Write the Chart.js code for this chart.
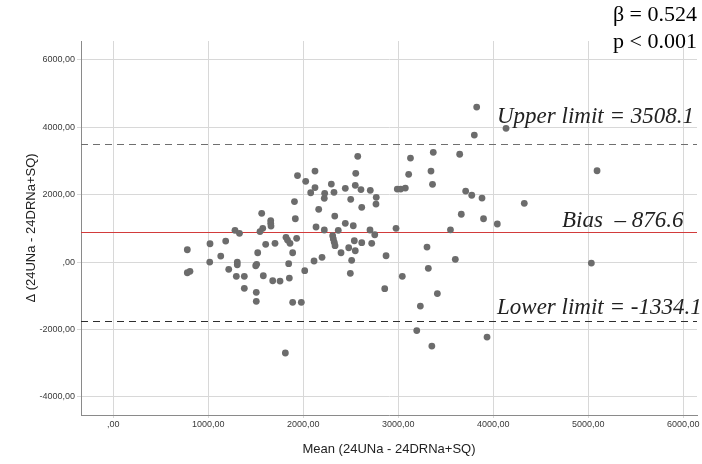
<!DOCTYPE html>
<html>
<head>
<meta charset="utf-8">
<script src="https://cdn.jsdelivr.net/npm/chart.js@4.4.0/dist/chart.umd.min.js"></script>
<style>
  html, body { margin: 0; padding: 0; background: #fff; }
  #wrap { width: 702px; height: 464px; }
</style>
</head>
<body>
<div id="wrap"><canvas id="chart" width="702" height="464"></canvas></div>
<script>
// Mean of the two methods (x) and their difference (y)
const meanValues = [
  779, 779, 807, 1018, 1015, 1131, 1183, 1215, 1281, 1328,
  1305, 1305, 1295, 1379, 1379, 1562, 1573, 1544, 1657, 1657,
  1660, 1604, 1702, 1520, 1499, 1509, 1579, 1505, 1505, 1678,
  1755, 1811, 1907, 1916, 1818, 1834, 1860, 1930, 1888, 1846,
  1853, 1888, 1979, 2015, 2162, 2134, 2221, 2113, 2197, 2331,
  2309, 2316, 2326, 2334, 2368, 2442, 2526, 2478, 2397, 2537,
  2547, 2509, 2495, 2615, 2702, 2752, 2615, 2720, 2765, 2871,
  2857, 2221, 2499, 1939, 2025, 2078, 2573, 2123, 2123, 2225,
  2295, 2323, 2442, 2552, 2547, 2607, 2705, 2768, 2976, 2989,
  3025, 3074, 3109, 3128, 3825, 4134, 3800, 3368, 3646, 3344,
  3360, 3709, 3773, 3881, 3663, 3897, 4042, 3549, 5092, 4326,
  5032, 3042, 3302, 3316, 3600, 3411, 3232, 3194, 3353, 3934
];
const diffValues = [
  365, -318, -276, 543, 0, 178, 623, -217, 941, 852,
  0, -80, -424, -424, -780, 1445, 1000, 905, 1231, 1148,
  1068, 525, 555, 276, -110, -68, -407, -899, -1166, -555,
  -564, -2700, 1795, 1285, 733, 653, 555, 703, 276, -50,
  -475, -1196, -1196, -258, 1564, 1039, 950, 30, 139, 1365,
  780, 683, 585, 484, 941, 1148, 1077, 424, 276, 632,
  335, 50, -335, 1623, 950, 810, 573, 555, 1721, 187,
  -792, 1890, 1861, 2567, 2395, 2056, 3137, 2700, 2211, 2039,
  2315, 2068, 2187, 2632, 2276, 2151, 2128, 1920, 1000, 2166,
  2166, 2196, 2602, 3086, 4600, 3967, 3769, 3255, 3199, 2700,
  2306, 2107, 1982, 1899, 1418, 1285, 1128, 955, 2709, 1742,
  -30, -424, 445, -187, 80, -935, -1306, -2033, -2493, -2226
];

const xTicks = [0, 1000, 2000, 3000, 4000, 5000, 6000];
const yTicks = [-4000, -2000, 0, 2000, 4000, 6000];

const biasValue = 876.6;
const upperLimit = 3508.1;
const lowerLimit = -1754.9;
const limitLabels = ['Upper limit = 3508.1', 'Bias  \u2013 876.6', 'Lower limit = -1334.1'];
const statLines = ['\u03b2 = 0.524', 'p < 0.001'];

const tickFont = { family: 'Arial, "Liberation Sans", sans-serif', size: 9 };
const titleFont = { family: 'Arial, "Liberation Sans", sans-serif', size: 13 };

function fmt(v) {
  return v === 0 ? ',00' : v + ',00';
}

const refLines = {
  id: 'refLines',
  beforeDatasetsDraw(chart) {
    const { ctx, chartArea, scales: { y } } = chart;
    const lines = [
      { v: upperLimit, color: '#6f6f6f', dash: [7, 5] },
      { v: biasValue, color: '#d23b3b', dash: [] },
      { v: lowerLimit, color: '#2e2e2e', dash: [7, 5] }
    ];
    ctx.save();
    lines.forEach(l => {
      const py = Math.round(y.getPixelForValue(l.v)) + 0.5;
      ctx.beginPath();
      ctx.setLineDash(l.dash);
      ctx.strokeStyle = l.color;
      ctx.lineWidth = 1.2;
      ctx.moveTo(chartArea.left, py);
      ctx.lineTo(chartArea.right, py);
      ctx.stroke();
    });
    ctx.restore();
  },
  afterDraw(chart) {
    const { ctx, scales: { y } } = chart;
    ctx.save();
    ctx.fillStyle = '#222';
    ctx.textBaseline = 'alphabetic';
    ctx.font = 'italic 23px "Liberation Serif", "Times New Roman", serif';
    ctx.textAlign = 'left';
    ctx.fillText(limitLabels[0], 497, y.getPixelForValue(upperLimit) - 21);
    ctx.fillText(limitLabels[1], 562, y.getPixelForValue(biasValue) - 5);
    ctx.fillText(limitLabels[2], 497, y.getPixelForValue(lowerLimit) - 7);

    ctx.font = '22px "Liberation Serif", "Times New Roman", serif';
    ctx.textAlign = 'right';
    ctx.fillStyle = '#000';
    ctx.fillText(statLines[0], 697, 21);
    ctx.fillText(statLines[1], 697, 48);
    ctx.restore();
  }
};

new Chart(document.getElementById('chart'), {
  type: 'scatter',
  data: {
    datasets: [{
      data: meanValues.map((m, i) => ({ x: m, y: diffValues[i] })),
      backgroundColor: '#6c6c6c',
      borderWidth: 0,
      pointRadius: 3.4,
      pointHoverRadius: 3.4
    }]
  },
  options: {
    responsive: false,
    animation: false,
    devicePixelRatio: 1,
    layout: { padding: { left: 20, top: 41, right: 5, bottom: 3 } },
    plugins: { legend: { display: false }, tooltip: { enabled: false } },
    scales: {
      x: {
        type: 'linear',
        min: -340,
        max: 6144,
        afterBuildTicks: s => { s.ticks = xTicks.map(v => ({ value: v })); },
        afterFit: s => { s.height = 46; },
        grid: { color: '#d8d8d8', lineWidth: 1, tickLength: 3, drawTicks: true },
        border: { color: '#8a8a8a', width: 1 },
        ticks: { font: tickFont, color: '#3a3a3a', padding: 1, maxRotation: 0, callback: v => fmt(v) },
        title: { display: true, text: 'Mean (24UNa - 24DRNa+SQ)', font: titleFont, color: '#222', padding: { top: 4, bottom: 4 } }
      },
      y: {
        type: 'linear',
        min: -4540,
        max: 6560,
        afterBuildTicks: s => { s.ticks = yTicks.map(v => ({ value: v })); },
        afterFit: s => { s.width = 61; },
        grid: { color: '#d8d8d8', lineWidth: 1, tickLength: 4, drawTicks: true },
        border: { color: '#8a8a8a', width: 1 },
        ticks: { font: tickFont, color: '#3a3a3a', padding: 2, callback: v => fmt(v) },
        title: { display: true, text: '\u0394 (24UNa - 24DRNa+SQ)', font: titleFont, color: '#222', padding: { top: 4, bottom: 4 } }
      }
    }
  },
  plugins: [refLines]
});
</script>
</body>
</html>
